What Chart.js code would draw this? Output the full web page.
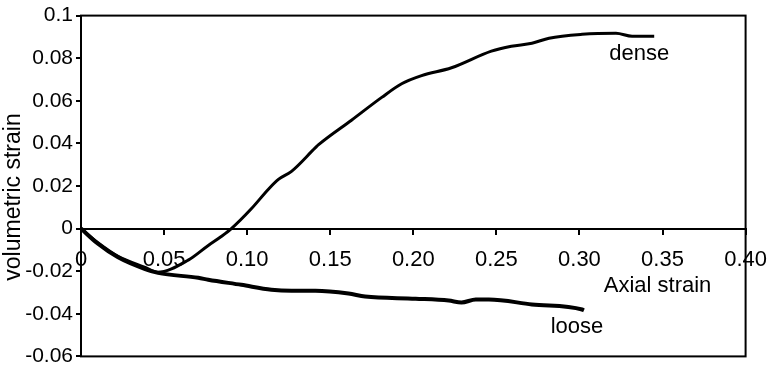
<!DOCTYPE html>
<html>
<head>
<meta charset="utf-8">
<script src="https://cdn.jsdelivr.net/npm/chart.js@4/dist/chart.umd.min.js"></script>
<style>
  html, body { margin: 0; padding: 0; background: #fff; }
  #wrap { width: 780px; height: 372px; }
</style>
</head>
<body>
<div id="wrap"><canvas id="myChart" width="780" height="372"></canvas></div>
<script>
// dense sample: axial strain vs volumetric strain
const denseX = [0, 0.01, 0.0223, 0.0386, 0.046, 0.0645, 0.0766, 0.0844, 0.0905, 0.1025, 0.1128, 0.1188,
  0.1267, 0.1411, 0.143, 0.1628, 0.181, 0.193, 0.205, 0.223, 0.247, 0.259, 0.2714, 0.2817, 0.3016, 0.322, 0.3317, 0.345];
const denseY = [0, -0.0065, -0.013, -0.0182, -0.0205, -0.0148, -0.0079, -0.0037, 0, 0.0093, 0.0185, 0.0231,
  0.0269, 0.038, 0.0394, 0.0509, 0.0616, 0.068, 0.0718, 0.0755, 0.0833, 0.0856, 0.087, 0.0894, 0.0912, 0.0917, 0.0903, 0.0903];

// loose sample
const looseX = [0, 0.01, 0.0223, 0.0386, 0.0464, 0.0706, 0.0766, 0.0965, 0.1146, 0.1267, 0.1411, 0.161,
  0.171, 0.2014, 0.2213, 0.229, 0.2376, 0.2455, 0.2714, 0.3016, 0.3027];
const looseY = [0, -0.007, -0.0135, -0.019, -0.0208, -0.0231, -0.024, -0.0264, -0.0287, -0.0292, -0.0292, -0.0305,
  -0.0319, -0.0329, -0.0338, -0.0347, -0.0333, -0.0333, -0.0356, -0.038, -0.0384];

// text placed in data coordinates
const noteText = ["dense", "loose", "Axial strain"];
const noteX = [0.336, 0.2985, 0.347];
const noteY = [0.0819, -0.0463, -0.0269];
const yTitle = "volumetric strain";

const toPts = (xs, ys) => xs.map((x, i) => ({ x: x, y: ys[i] }));
const FONT = "'Liberation Sans', Arial, sans-serif";

Chart.defaults.font.family = FONT;
Chart.defaults.font.size = 22;
Chart.defaults.color = "#000";

const frame = {
  id: "frame",
  afterDraw(chart) {
    const { ctx, chartArea: a, scales } = chart;
    ctx.save();
    ctx.strokeStyle = "#000";
    ctx.lineWidth = 2;
    ctx.strokeRect(a.left, a.top, a.right - a.left, a.bottom - a.top);
    ctx.fillStyle = "#000";
    ctx.font = "22px " + FONT;
    ctx.textAlign = "center";
    ctx.textBaseline = "middle";
    noteText.forEach((t, i) => {
      ctx.fillText(t, scales.x.getPixelForValue(noteX[i]), scales.y.getPixelForValue(noteY[i]));
    });
    // y axis title, a little below the middle as in the original
    ctx.font = "23px " + FONT;
    ctx.translate(14, 197);
    ctx.rotate(-Math.PI / 2);
    ctx.fillText(yTitle, 0, 0);
    ctx.restore();
  }
};

new Chart(document.getElementById("myChart").getContext("2d"), {
  type: "scatter",
  data: {
    datasets: [
      {
        label: "dense",
        data: toPts(denseX, denseY),
        showLine: true,
        borderColor: "#000",
        borderWidth: 3,
        pointRadius: 0,
        cubicInterpolationMode: "monotone"
      },
      {
        label: "loose",
        data: toPts(looseX, looseY),
        showLine: true,
        borderColor: "#000",
        borderWidth: 4,
        pointRadius: 0,
        cubicInterpolationMode: "monotone"
      }
    ]
  },
  options: {
    responsive: false,
    animation: false,
    layout: { padding: { top: 14, right: 33, bottom: 12, left: 0 } },
    plugins: { legend: { display: false }, tooltip: { enabled: false } },
    scales: {
      x: {
        type: "linear",
        min: 0,
        max: 0.4,
        position: { y: 0 },
        border: { display: true, color: "#000", width: 2 },
        grid: { drawOnChartArea: false, drawTicks: true, tickLength: 5, color: "#000", lineWidth: 2 },
        ticks: {
          stepSize: 0.05,
          maxRotation: 0,
          autoSkip: false,
          padding: 13,
          callback: v => (Math.abs(v) < 1e-9 ? "0" : v.toFixed(2))
        }
      },
      y: {
        min: -0.06,
        max: 0.1,
        border: { display: true, color: "#000", width: 2 },
        grid: { drawOnChartArea: false, drawTicks: true, tickLength: 5, color: "#000", lineWidth: 2 },
        ticks: {
          stepSize: 0.02,
          padding: 3,
          font: { size: 21 },
          callback: v => String(Number(v.toFixed(2)))
        },
        afterFit: s => { s.width = 81; }
      }
    }
  },
  plugins: [frame]
});
</script>
</body>
</html>
